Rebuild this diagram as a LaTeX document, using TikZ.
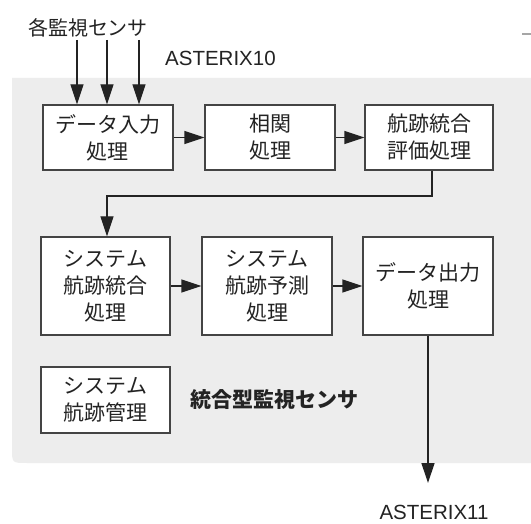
\documentclass[tikz,border=0pt]{standalone}
\usepackage{fontspec}
\setmainfont{Liberation Sans}
\newfontfamily\cjk{Noto Sans CJK JP}
\usetikzlibrary{arrows.meta}
\definecolor{panel}{RGB}{237,237,237}
\definecolor{ink}{RGB}{35,35,35}
\tikzset{
  box/.style={draw=ink!85, line width=1.3pt, fill=white, inner sep=0pt, align=center,
    text=ink, font=\cjk\fontsize{21}{27}\selectfont},
  arr/.style={draw=ink, line width=1.3pt, -{Triangle[length=20pt,width=13pt]}},
  line/.style={draw=ink, line width=1.3pt},
  lbl/.style={text=ink, inner sep=0pt}
}
\begin{document}
\begin{tikzpicture}[x=1pt,y=-1pt]
\useasboundingbox (0,0) rectangle (531,524);
\fill[white] (0,0) rectangle (531,524);
% panel
\fill[panel] (12,78) -- (12,448) .. controls (12,463) .. (27,463) -- (531,463) -- (531,78) -- cycle;
% artifact dash at top right
\draw[gray!70, line width=2pt] (522,34) -- (531,34);

% nodes
\node[box, minimum width=130pt, minimum height=65pt] (b1) at (108,137.5) {データ入力\\処理};
\node[box, minimum width=130pt, minimum height=65pt] (b2) at (270,137.5) {相関\\処理};
\node[box, minimum width=128pt, minimum height=65pt] (b3) at (429,137.5) {航跡統合\\評価処理};
\node[box, minimum width=129pt, minimum height=98pt] (b4) at (105.5,286) {システム\\航跡統合\\処理};
\node[box, minimum width=130pt, minimum height=98pt] (b5) at (267,286) {システム\\航跡予測\\処理};
\node[box, minimum width=130pt, minimum height=98pt] (b6) at (428,286) {データ出力\\処理};
\node[box, minimum width=129pt, minimum height=66pt] (b7) at (105.5,400) {システム\\航跡管理};

\node[lbl, font=\cjk\fontsize{20}{24}\selectfont] (title) at (88,28) {各監視センサ};
\node[lbl, font=\fontsize{20.5}{24}\selectfont, anchor=west] (ast10) at (165,58) {ASTERIX10};
\node[lbl, font=\cjk\bfseries\fontsize{21}{24}\selectfont, anchor=west] (integ) at (190,400) {統合型監視センサ};
\node[lbl, font=\fontsize{20.5}{24}\selectfont] (ast11) at (434,512) {ASTERIX11};

% input arrows
\coordinate (i1) at (77,40);
\coordinate (i2) at (107,40);
\coordinate (i3) at (139,40);
\draw[arr] (i1) -- (i1 |- b1.north);
\draw[arr] (i2) -- (i2 |- b1.north);
\draw[arr] (i3) -- (i3 |- b1.north);

% row 1
\draw[arr] (b1) -- (b2);
\draw[arr] (b2) -- (b3);
% turn
\coordinate (t1) at (432,196);
\coordinate (t2) at (107,196);
\draw[arr] (t1 |- b3.south) -- (t1) -- (t2) -- (t2 |- b4.north);
% row 2
\draw[arr] (b4) -- (b5);
\draw[arr] (b5) -- (b6);
% output
\coordinate (o1) at (428,483);
\draw[arr] (o1 |- b6.south) -- (o1);
\end{tikzpicture}
\end{document}
